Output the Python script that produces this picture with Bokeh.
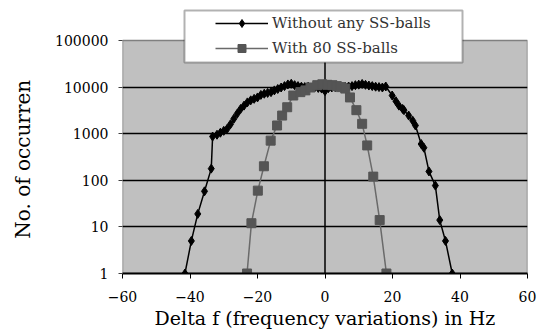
from bokeh.plotting import figure
from bokeh.models import Range1d, FixedTicker, Legend, LegendItem, BoxAnnotation
from bokeh.embed import file_html
from bokeh.resources import INLINE

# Series 1: Without any SS-balls
x_without = [-41.5, -39.6, -37.7, -35.7, -33.7, -33.3, -32, -31, -30, -29, -28, -27, -26, -25,
             -24, -23, -22, -21, -20, -19, -18, -17, -16, -15, -14, -13, -12, -11, -10, -9,
             -8, -7, -6, -5, -4, -3, -2, -1, 0, 1, 2, 3, 4, 5, 6, 7, 8, 9, 10, 11, 12, 13,
             14, 15, 16, 17, 18, 19.9, 21, 21.9, 23, 23.4, 24.8, 26, 26.8, 28.5, 29.3, 30.8,
             32.7, 34, 35.7, 37.7]
y_without = [1, 5, 19, 58, 178, 870, 950, 1050, 1150, 1270, 1600, 2100, 2700, 3400,
             4000, 4700, 5200, 5600, 6000, 6800, 7200, 7500, 7800, 8500, 9100, 9800, 10500, 11400, 11800, 11000,
             10500, 10200, 10000, 10200, 9800, 10000, 9600, 9300, 8200, 9500, 9800, 10000, 10200, 9900, 10100, 10300, 10500, 11000, 11300, 11700, 11200, 10800,
             10500, 10200, 10000, 9800, 10300, 6600, 5000, 4000, 3400, 3200, 2450, 1900, 1500, 600, 500, 155,
             77, 14, 5, 1]

# Series 2: With 80 SS-balls
x_with = [-23.1, -21.8, -19.9, -18.1, -16.1, -14.2, -12.7, -11.2, -9.4, -7.3, -5.8, -4.3, -2.3,
          -0.8, 0.7, 2.2, 3.5, 4.7, 6.0, 7.4, 9.3, 11.0, 12.5, 14.3, 16.2, 18.2]
y_with = [1, 12, 60, 200, 710, 1500, 2450, 3700, 6600, 7800, 8500, 9800, 11000,
          11500, 11200, 11000, 10500, 10000, 9300, 6000, 3200, 1630, 560, 120, 14, 1]

x_ticks = [-60, -40, -20, 0, 20, 40, 60]
y_ticks = [1, 10, 100, 1000, 10000, 100000]
y_tick_labels = ["1", "10", "100", "1000", "10000", "100000"]

SERIF = "DejaVu Serif"

# plotting area: 405 x 233 px for the decades 1..1e5; frame extends up to the canvas top
PLOT_H = 233
FRAME_H = 273
y_top = 10 ** (5 * FRAME_H / PLOT_H)

p = figure(frame_width=405, frame_height=FRAME_H, y_axis_type="log",
           x_range=Range1d(x_ticks[0], x_ticks[-1]), y_range=Range1d(1, y_top),
           output_backend="svg", toolbar_location=None,
           min_border_left=122, min_border_right=13, min_border_top=0, min_border_bottom=59,
           background_fill_color="white", border_fill_color="white",
           outline_line_color=None)

# grey plot area with its border
p.quad(left=[x_ticks[0]], right=[x_ticks[-1]], bottom=[y_ticks[0]], top=[y_ticks[-1]],
       fill_color="#c0c0c0", line_color="#808080", line_width=1.5, level="underlay")

# axes
p.xaxis.ticker = FixedTicker(ticks=x_ticks)
p.yaxis.ticker = FixedTicker(ticks=y_ticks)
p.yaxis.major_label_overrides = {t: s for t, s in zip(y_ticks, y_tick_labels)}
for ax in (p.xaxis[0], p.yaxis[0]):
    ax.minor_tick_line_color = None
    ax.major_tick_in = 0
    ax.major_tick_out = 5
    ax.major_label_text_font = SERIF
    ax.major_label_text_font_size = "14px"
    ax.major_label_text_color = "black"
    ax.axis_label_text_font = SERIF
    ax.axis_label_text_font_style = "normal"
    ax.axis_label_text_color = "black"
p.xaxis.axis_line_color = "black"
p.xaxis.axis_line_width = 2
p.yaxis.axis_line_color = None
p.yaxis.major_tick_line_color = "#404040"
p.xaxis.major_label_standoff = 12
p.yaxis.major_label_standoff = 10
p.yaxis.major_tick_out = 4
p.xaxis.axis_label = "Delta f (frequency variations) in Hz"
# trailing no-break spaces centre the label on the grey plot area rather than the whole frame
p.yaxis.axis_label = "No. of occurren" + "\u00a0" * 7
p.xaxis.axis_label_text_font_size = "19px"
p.yaxis.axis_label_text_font_size = "20px"
p.xaxis.axis_label_standoff = 2
p.yaxis.axis_label_standoff = 17

p.xgrid.grid_line_color = None
p.ygrid.ticker = FixedTicker(ticks=y_ticks[1:-1])
p.ygrid.grid_line_color = "black"
p.ygrid.grid_line_width = 1.5

# vertical axis line crossing at 0
p.segment(x0=[x_ticks[3]], y0=[y_ticks[0]], x1=[x_ticks[3]], y1=[y_ticks[-1]],
          line_color="black", line_width=1.5)

l1 = p.line(x_without, y_without, line_color="black", line_width=1.5)
s1 = p.scatter(x_without, y_without, marker="diamond", size=9, fill_color="black", line_color="black")
l2 = p.line(x_with, y_with, line_color="#6a6a6a", line_width=1.5)
s2 = p.scatter(x_with, y_with, marker="square", size=9, fill_color="#555555", line_color="#555555")

box = BoxAnnotation(left=62, right=340, top=263, bottom=211,
                    left_units="screen", right_units="screen", top_units="screen", bottom_units="screen",
                    fill_color="white", fill_alpha=1, line_color="black", line_width=2)
p.add_layout(box)

legend = Legend(items=[LegendItem(label="Without any SS-balls", renderers=[l1, s1]),
                       LegendItem(label="With 80 SS-balls", renderers=[l2, s2])],
                location=(93, 215), padding=0, spacing=5, margin=0,
                glyph_width=53, glyph_height=20, label_height=20, label_standoff=4,
                border_line_alpha=0, background_fill_alpha=0,
                label_text_font=SERIF, label_text_font_size="15px", label_text_color="#333333")
p.add_layout(legend, "center")

open("out.html", "w").write(file_html(p, INLINE))
